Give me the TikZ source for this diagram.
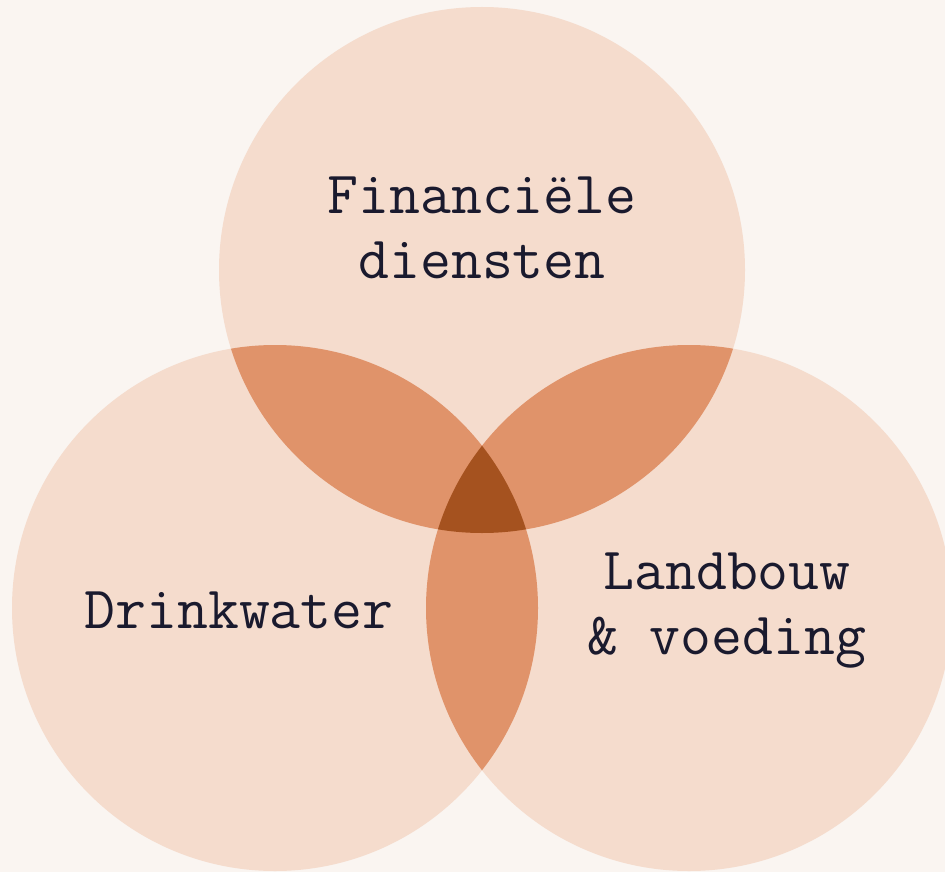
\documentclass[tikz,border=0pt]{standalone}
\usepackage{fontspec}
\definecolor{pagebg}{RGB}{250, 245, 241}
\definecolor{petal}{RGB}{245, 220, 205}
\definecolor{overlap}{RGB}{224, 147, 106}
\definecolor{core}{RGB}{165, 82, 31}
\definecolor{inkdark}{RGB}{26, 26, 46}
\usepackage{tikz}
\usetikzlibrary{positioning}

\begin{document}
\begin{tikzpicture}[x=1pt, y=-1pt,
  label/.style={font=\ttfamily\fontsize{60}{65}\selectfont, text=inkdark, align=center, inner sep=0pt}]
  % Background
  \fill[pagebg] (0, 0) rectangle (945, 872);
  \useasboundingbox (0, 0) rectangle (945, 872);

  \coordinate (fin) at (482, 270);
  \coordinate (wat) at (275, 608);
  \coordinate (agr) at (689, 608);
  \def\rad{263}

  % Single circles
  \fill[petal] (fin) circle[radius=\rad];
  \fill[petal] (wat) circle[radius=\rad];
  \fill[petal] (agr) circle[radius=\rad];

  % Pairwise overlaps
  \begin{scope}
    \clip (fin) circle[radius=\rad];
    \fill[overlap] (wat) circle[radius=\rad];
    \fill[overlap] (agr) circle[radius=\rad];
  \end{scope}
  \begin{scope}
    \clip (wat) circle[radius=\rad];
    \fill[overlap] (agr) circle[radius=\rad];
  \end{scope}

  % Centre overlap
  \begin{scope}
    \clip (fin) circle[radius=\rad];
    \clip (wat) circle[radius=\rad];
    \fill[core] (agr) circle[radius=\rad];
  \end{scope}

  % Labels
  \node[label] (finlabel) at (482, 228) {Financiële\\diensten};
  \node[label] (watlabel) at (239, 610) {Drinkwater};
  \node[label] (agrlabel) at (727, 611) {Landbouw\\\& voeding};
\end{tikzpicture}
\end{document}
